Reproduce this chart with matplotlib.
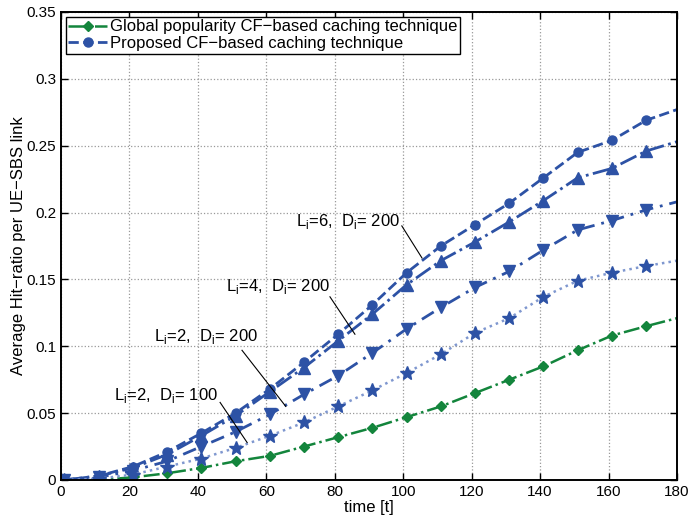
import numpy as np
import matplotlib
matplotlib.use("Agg")
import matplotlib.pyplot as plt

plt.rcParams['font.family'] = ['Liberation Sans', 'DejaVu Sans']
plt.rcParams['mathtext.fontset'] = 'custom'
plt.rcParams['mathtext.rm'] = 'Liberation Sans'

# time samples (markers every 10 slots, last point only carries the line)
t = [1, 11, 21, 31, 41, 51, 61, 71, 81, 91, 101, 111, 121, 131, 141, 151, 161, 171, 180]

glob = [0, 0.000, 0.002, 0.005, 0.009, 0.014, 0.018, 0.025, 0.032, 0.039,
        0.047, 0.055, 0.065, 0.075, 0.085, 0.097, 0.108, 0.115, 0.121]
l6_d200 = [0, 0.003, 0.010, 0.021, 0.035, 0.050, 0.068, 0.088, 0.109, 0.131,
           0.155, 0.175, 0.191, 0.207, 0.226, 0.245, 0.254, 0.269, 0.277]
l4_d200 = [0, 0.003, 0.009, 0.019, 0.033, 0.048, 0.066, 0.084, 0.104, 0.124,
           0.146, 0.164, 0.178, 0.193, 0.209, 0.226, 0.233, 0.246, 0.253]
l2_d200 = [0, 0.002, 0.007, 0.014, 0.025, 0.036, 0.049, 0.064, 0.078, 0.095,
           0.113, 0.129, 0.144, 0.156, 0.172, 0.187, 0.194, 0.202, 0.208]
l2_d100 = [0, 0.001, 0.004, 0.010, 0.016, 0.024, 0.033, 0.043, 0.055, 0.067,
           0.080, 0.094, 0.110, 0.121, 0.137, 0.149, 0.155, 0.160, 0.164]

labels = [r'L$_\mathregular{i}$=6,  D$_\mathregular{i}$= 200',
          r'L$_\mathregular{i}$=4,  D$_\mathregular{i}$= 200',
          r'L$_\mathregular{i}$=2,  D$_\mathregular{i}$= 200',
          r'L$_\mathregular{i}$=2,  D$_\mathregular{i}$= 100']

blue = '#2d52a5'
green = '#13853c'
mk = list(range(len(t) - 1))

fig = plt.figure(figsize=(6.89, 5.16), dpi=100)
ax = fig.add_axes([0.0885, 0.0698, 0.894, 0.907])

ax.plot(t, glob, '-.', color=green, lw=1.8, marker='D', ms=5.5, markevery=mk,
        label='Global popularity CF\u2212based caching technique')
ax.plot(t, l6_d200, '--', color=blue, lw=2, marker='o', ms=6.5, markevery=mk,
        label='Proposed CF\u2212based caching technique')
ax.plot(t, l4_d200, '-.', color=blue, lw=2, marker='^', ms=8, markevery=mk)
ax.plot(t, l2_d200, color=blue, lw=2, dashes=(5, 2.5, 1, 2.5), marker='v', ms=8, markevery=mk)
ax.plot(t, l2_d100, ':', color='#7f97cf', lw=1.8, marker='*', ms=10, markevery=mk,
        mfc=blue, mec=blue)

# annotations
ax.text(99.1, 0.190, labels[0], ha='right', va='baseline', fontsize=12)
ax.plot([99.6, 105.5], [0.190, 0.166], 'k-', lw=0.8)
ax.text(78.6, 0.1416, labels[1], ha='right', va='baseline', fontsize=12)
ax.plot([78.6, 85.9], [0.137, 0.109], 'k-', lw=0.8)
ax.text(57.6, 0.104, labels[2], ha='right', va='baseline', fontsize=12)
ax.plot([52.9, 65.7], [0.097, 0.055], 'k-', lw=0.8)
ax.text(45.9, 0.060, labels[3], ha='right', va='baseline', fontsize=12)
ax.plot([46.5, 54.4], [0.058, 0.028], 'k-', lw=0.8)

ax.set_xlim(0, 180)
ax.set_ylim(0, 0.35)
ax.set_xticks([0, 20, 40, 60, 80, 100, 120, 140, 160, 180])
ax.set_yticks([0, 0.05, 0.1, 0.15, 0.2, 0.25, 0.3, 0.35])
ax.set_yticklabels(['0', '0.05', '0.1', '0.15', '0.2', '0.25', '0.3', '0.35'])
ax.tick_params(direction='in', top=True, right=True, labelsize=11, length=5, width=1)
ax.grid(True, linestyle=':', color='#999999', lw=0.9)
for s in ax.spines.values():
    s.set_linewidth(1.4)

ax.set_xlabel('time [t]', fontsize=12, labelpad=1)
ax.set_ylabel('Average Hit\u2212ratio per UE\u2212SBS link', fontsize=12, labelpad=0)

leg = ax.legend(loc='upper left', fontsize=12, handlelength=2.3, handletextpad=0.2,
                borderaxespad=0.3, borderpad=0.15, labelspacing=0.1, fancybox=False,
                edgecolor='k', framealpha=1)
leg.get_frame().set_linewidth(1)

fig.savefig('out.png', dpi=100)
